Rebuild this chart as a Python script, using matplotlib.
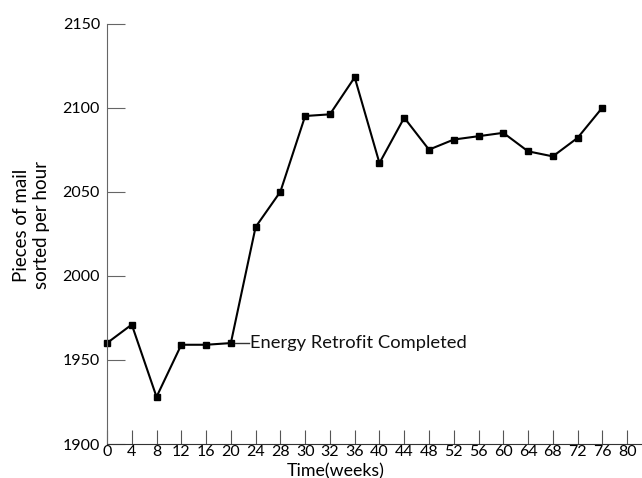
import matplotlib
matplotlib.use('Agg')
import matplotlib.pyplot as plt

# tick labels along the time axis (note the "30" as printed in the source)
week_labels = ['0', '4', '8', '12', '16', '20', '24', '28', '30', '32', '36', '40',
               '44', '48', '52', '56', '60', '64', '68', '72', '76', '80']
# mail sorted per hour, one value per labelled week (0 .. 76)
mail_rate = [1960, 1971, 1928, 1959, 1959, 1960, 2029, 2050, 2095, 2096, 2118,
             2067, 2094, 2075, 2081, 2083, 2085, 2074, 2071, 2082, 2100]
y_ticks = [1900, 1950, 2000, 2050, 2100, 2150]
retrofit_idx = 5

plt.rcParams['font.family'] = ['Lato', 'DejaVu Sans']

fig = plt.figure(figsize=(6.42, 4.78), dpi=100)
ax = fig.add_axes([107 / 642, 34 / 478, 1 - 107 / 642, 420.5 / 478])

pos = list(range(len(mail_rate)))
ax.plot(pos, mail_rate, color='black', lw=1.5, marker='s', ms=5,
        markerfacecolor='black', markeredgecolor='black', clip_on=False)

# annotation for the retrofit
ax.plot([retrofit_idx + 0.18, retrofit_idx + 0.72],
        [mail_rate[retrofit_idx]] * 2, color='#333333', lw=1)
ax.text(retrofit_idx + 0.78, mail_rate[retrofit_idx], 'Energy Retrofit Completed',
        fontsize=13.2, va='center', ha='left', color='#111111')

ax.set_xlim(0, 21.6)
ax.set_ylim(1900, 2150)
ax.set_xticks(range(len(week_labels)))
ax.set_xticklabels(week_labels)
ax.set_yticks(y_ticks)

for side in ['top', 'right']:
    ax.spines[side].set_visible(False)
ax.spines['left'].set_color('#666666')
ax.spines['bottom'].set_color('#333333')

ax.tick_params(axis='y', direction='in', length=13, color='#666666',
               labelsize=11.5, pad=5)
ax.tick_params(axis='x', direction='in', length=10, color='#555555',
               labelsize=11.5, pad=1)

ax.set_xlabel('Time(weeks)', fontsize=12.8, labelpad=2.5, x=0.428)
ax.set_ylabel('Pieces of mail\nsorted per hour', fontsize=13.5, labelpad=9, y=0.52)

fig.savefig('out.png', dpi=100)
